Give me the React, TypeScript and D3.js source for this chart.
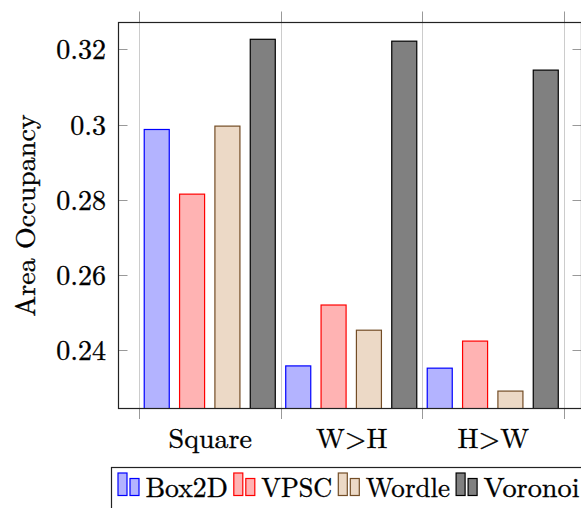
import React from "react";
import * as d3 from "d3";

const categories = ["Square", "W>H", "H>W"];
const seriesNames = ["Box2D", "VPSC", "Wordle", "Voronoi"];
const box2d = [0.2987, 0.2358, 0.2352];
const vpsc = [0.2815, 0.2520, 0.2424];
const wordle = [0.2996, 0.2453, 0.2291];
const voronoi = [0.3227, 0.3222, 0.3145];
const yTicks = [0.24, 0.26, 0.28, 0.30, 0.32];
const yLabel = "Area Occupancy";

const fills = ["#b3b3ff", "#ffb3b3", "#ecd9c6", "#808080"];
const strokes = ["#0000ff", "#ff0000", "#734d26", "#000000"];

const W = 581;
const H = 508;
const FONT = `"Latin Modern Roman", "Liberation Serif", serif`;
const tStyle = { fontFamily: FONT, fontSize: "28px" } as React.CSSProperties;
const textWeight = { stroke: "#000", strokeWidth: 0.35 };

export default function App() {
  const series = [box2d, vpsc, wordle, voronoi];
  const left = 118.5, right = 581.5, top = 22.5, bottom = 408.5;

  const x = d3.scaleBand<string>().domain(categories).range([139, 563.5]).padding(0);
  const xInner = d3
    .scaleBand<string>()
    .domain(seriesNames)
    .range([0, x.bandwidth()])
    .paddingInner(0.292)
    .paddingOuter(0.148);
  const y = d3.scaleLinear().domain([0.2246, 0.3273]).range([408, 22]);

  const boundaries = [...categories.map((c) => x(c) as number), (x(categories[categories.length - 1]) as number) + x.bandwidth()];
  const fmt = (v: number) => String(+v.toFixed(2));

  const legendTextWidths = [82.3, 71, 84.3, 96];
  let cursor = 118;
  const legendItems = seriesNames.map((name, i) => {
    const item = { name, i, x: cursor };
    cursor += 27.5 + legendTextWidths[i] + 6;
    return item;
  });

  return (
    <svg
      width={W}
      height={H}
      style={{ position: "absolute", left: 0, top: 0, background: "#fff" }}
    >
      <rect x={0} y={0} width={W} height={H} fill="#fff" />
      <defs>
        <clipPath id="plotclip">
          <rect x={left} y={top} width={right - left} height={bottom - top} />
        </clipPath>
      </defs>
      {boundaries.map((b, i) => (
        <g key={"g" + i}>
          <line x1={Math.round(b) + 0.5} x2={Math.round(b) + 0.5} y1={top} y2={bottom} stroke="#cccccc" strokeWidth={1} />
          <line x1={Math.round(b) + 0.5} x2={Math.round(b) + 0.5} y1={11.5} y2={top} stroke="#999999" strokeWidth={1} />
          <line x1={Math.round(b) + 0.5} x2={Math.round(b) + 0.5} y1={bottom} y2={419} stroke="#999999" strokeWidth={1} />
        </g>
      ))}
      <g clipPath="url(#plotclip)">
        {categories.map((c, ci) =>
          series.map((s, si) => {
            const bx = (x(c) as number) + (xInner(seriesNames[si]) as number);
            const by = y(s[ci]);
            return (
              <rect
                key={c + si}
                x={bx}
                y={by}
                width={xInner.bandwidth()}
                height={bottom + 2 - by}
                fill={fills[si]}
                stroke={strokes[si]}
                strokeWidth={1.2}
              />
            );
          })
        )}
      </g>
      {yTicks.map((t) => {
        const ty = Math.round(y(t)) + 0.5;
        return (
          <g key={"t" + t}>
            <line x1={left} x2={left + 9} y1={ty} y2={ty} stroke="#999999" />
            <line x1={right - 9} x2={right} y1={ty} y2={ty} stroke="#999999" />
            <text x={106} y={ty} dy="0.33em" textAnchor="end" style={tStyle} fill="#000" {...textWeight}>
              {fmt(t)}
            </text>
          </g>
        );
      })}
      <rect x={left} y={top} width={right - left} height={bottom - top} fill="none" stroke="#222" strokeWidth={1.2} />
      {categories.map((c) => (
        <text
          key={"x" + c}
          x={(x(c) as number) + x.bandwidth() / 2 + 0.5}
          y={448}
          textAnchor="middle"
          style={tStyle}
          {...textWeight}
        >
          {c}
        </text>
      ))}
      <text
        transform={`translate(35, ${(top + bottom) / 2}) rotate(-90)`}
        textAnchor="middle"
        style={tStyle}
        {...textWeight}
      >
        {yLabel}
      </text>
      <rect x={111.5} y={467.5} width={W} height={60} fill="#fff" stroke="#222" strokeWidth={1.2} />
      {legendItems.map((it) => (
        <g key={"l" + it.name}>
          <rect x={it.x} y={473} width={9} height={22.5} fill={fills[it.i]} stroke={strokes[it.i]} strokeWidth={1.2} />
          <rect x={it.x + 12} y={478.5} width={9} height={17} fill={fills[it.i]} stroke={strokes[it.i]} strokeWidth={1.2} />
          <text
            x={it.x + 27.5}
            y={497}
            style={tStyle}
            fill="#000"
            {...textWeight}
            textLength={legendTextWidths[it.i]}
            lengthAdjust="spacingAndGlyphs"
          >
            {it.name}
          </text>
        </g>
      ))}
    </svg>
  );
}
